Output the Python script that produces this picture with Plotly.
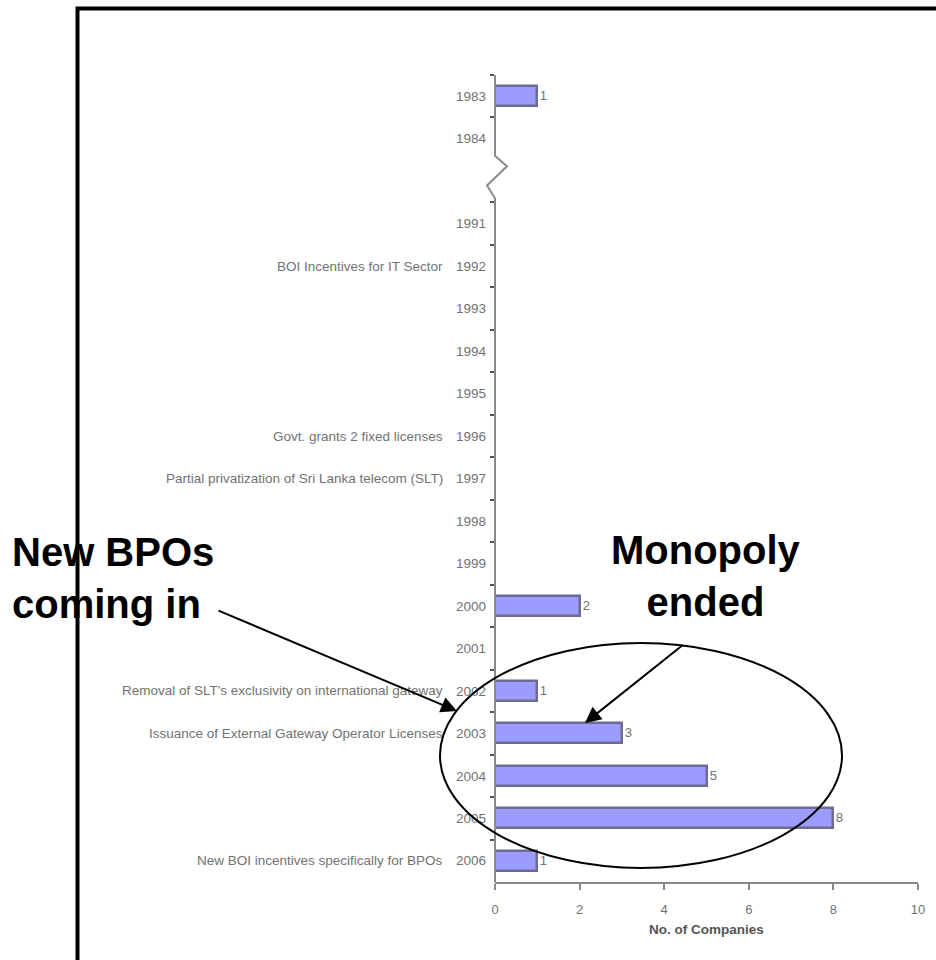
import plotly.graph_objects as go

# ---------------- data ----------------
years = ["1983", "1984", "1991", "1992", "1993", "1994", "1995", "1996", "1997",
         "1998", "1999", "2000", "2001", "2002", "2003", "2004", "2005", "2006"]
events = ["", "", "", "BOI Incentives for IT Sector", "", "", "",
          "Govt. grants 2 fixed licenses",
          "Partial privatization of Sri Lanka telecom (SLT)",
          "", "", "", "",
          "Removal of SLT's exclusivity on international gateway",
          "Issuance of External Gateway Operator Licenses",
          "", "", "New BOI incentives specifically for BPOs"]
companies = [1, 0, 0, 0, 0, 0, 0, 0, 0, 0, 0, 2, 0, 1, 3, 5, 8, 1]
x_ticks = [0, 2, 4, 6, 8, 10]
x_title = "No. of Companies"
callout_right = ["Monopoly", "ended"]
callout_left = ["New BPOs", "coming in"]

# ---------------- category positions (one extra slot for the axis break) ----
n = len(years)
break_after = 1          # axis break between "1984" and "1991"
pos = [(n - 1 - i) + (1 if i <= break_after else 0) for i in range(n)]
top = max(pos)
y_range = [-0.5, top + 0.5]
break_c = (pos[break_after] + pos[break_after + 1]) / 2.0

# plot area in pixels
W, H = 936, 960
L, R, T, B = 495, 918, 75, 882


def px(xp):
    return (xp - L) / (R - L)


def py(yp):
    return (B - yp) / (B - T)


def dy(v):  # data y -> paper y
    return (v - y_range[0]) / (y_range[1] - y_range[0])


GRAY_TXT = "#727272"
AXIS = "#8a8a8a"
FONT = "Liberation Sans, Arial, sans-serif"

fig = go.Figure()
fig.add_trace(go.Bar(
    x=companies, y=pos, orientation="h", width=0.47,
    marker=dict(color="#9c9cff", line=dict(color="#6c6c90", width=2.5)),
    text=[str(v) if v else "" for v in companies],
    textposition="outside", cliponaxis=False,
    textfont=dict(size=13, color=GRAY_TXT, family=FONT),
    hoverinfo="skip", showlegend=False,
))
# invisible trace to activate tick overlay axis
fig.add_trace(go.Scatter(x=[None], y=[None], yaxis="y2", showlegend=False,
                         hoverinfo="skip"))

# tick marks at category boundaries (skip the break slot)
bounds = [top + 0.5, top - 0.5] + [p + 0.5 for p in pos[break_after + 1:]]

fig.update_layout(
    width=W, height=H,
    margin=dict(l=L, r=W - R, t=T, b=H - B, pad=0),
    paper_bgcolor="white", plot_bgcolor="white",
    font=dict(family=FONT, color=GRAY_TXT, size=13),
    bargap=0,
    xaxis=dict(range=[0, 10], tickvals=x_ticks, ticks="outside", ticklen=6,
               tickcolor=AXIS, tickwidth=2, showline=True, linecolor=AXIS,
               linewidth=2, showgrid=False, zeroline=False,
               ticklabelstandoff=8,
               tickfont=dict(size=13, color=GRAY_TXT),
               title=dict(text="<b>" + x_title + "</b>", standoff=9,
                          font=dict(size=13.5, color="#555555"))),
    yaxis=dict(range=y_range, tickvals=pos, ticktext=years, ticks="",
               showline=False, showgrid=False, zeroline=False,
               ticklabelstandoff=8,
               tickfont=dict(size=13.5, color=GRAY_TXT)),
    yaxis2=dict(range=y_range, overlaying="y", side="left", tickvals=bounds,
                ticks="outside", ticklen=4, tickwidth=2, tickcolor="#555555",
                showticklabels=False, showline=False, showgrid=False,
                zeroline=False),
)

# event labels to the left of year labels
for p, ev in zip(pos, events):
    if ev:
        fig.add_annotation(x=0, y=p, xref="x", yref="y", text=ev,
                           showarrow=False, xanchor="right", xshift=-50,
                           font=dict(size=13.5, color=GRAY_TXT))

# y axis line with a zig-zag break (paper coords so it is not clipped)
zx = [L, L, 507, 487, L, L]
zy = [dy(y_range[1]), dy(break_c + 0.6), dy(break_c + 0.35),
      dy(break_c - 0.1), dy(break_c - 0.4), dy(y_range[0])]
path = "M " + " L ".join(f"{px(a)},{b}" for a, b in zip(zx, zy))
fig.add_shape(type="path", path=path, xref="paper", yref="paper",
              line=dict(color=AXIS, width=2))

# outer frame
fig.add_shape(type="rect", xref="paper", yref="paper",
              x0=px(77.5), x1=px(1200), y0=py(1200), y1=py(8.5),
              line=dict(color="black", width=4))

# ellipse
fig.add_shape(type="circle", xref="paper", yref="paper",
              x0=px(440), x1=px(842), y0=py(868), y1=py(643),
              line=dict(color="black", width=2))


def bold_lines(lines):
    return "<br>".join("<b>" + s + "</b>" for s in lines)


# callout texts
fig.add_annotation(xref="paper", yref="paper", x=px(706), y=py(576),
                   text=bold_lines(callout_right), showarrow=False,
                   xanchor="center", yanchor="middle", align="center",
                   font=dict(size=40, color="black", family=FONT))
fig.add_annotation(xref="paper", yref="paper", x=px(10), y=py(578),
                   text=bold_lines(callout_left), showarrow=False,
                   xanchor="left", yanchor="middle", align="left",
                   font=dict(size=40, color="black", family=FONT))

# arrows
fig.add_annotation(xref="paper", yref="paper", x=px(457), y=py(711),
                   ax=217 - 457, ay=610 - 711, text="", showarrow=True,
                   arrowhead=2, arrowsize=1.6, arrowwidth=2, arrowcolor="black")
fig.add_annotation(xref="paper", yref="paper", x=px(585), y=py(723),
                   ax=684 - 585, ay=644 - 723, text="", showarrow=True,
                   arrowhead=2, arrowsize=1.6, arrowwidth=2, arrowcolor="black")

fig.write_html("out.html")
